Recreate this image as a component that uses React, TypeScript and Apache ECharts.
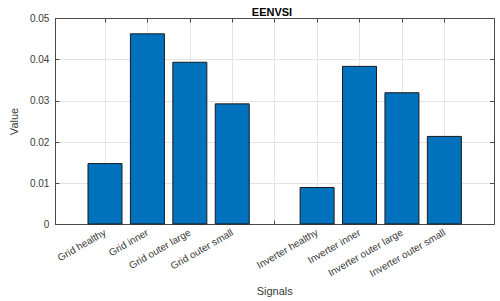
import React, { useEffect, useRef } from "react";
import * as echarts from "echarts";

const categories = [
  "Grid healthy",
  "Grid inner",
  "Grid outer large",
  "Grid outer small",
  "",
  "Inverter healthy",
  "Inverter inner",
  "Inverter outer large",
  "Inverter outer small",
];
const positions = [1, 2, 3, 4, 5, 6, 7, 8, 9];
const values: (number | null)[] = [0.0149, 0.0464, 0.0395, 0.0294, null, 0.0091, 0.0385, 0.0321, 0.0215];
const yTicks = [0, 0.01, 0.02, 0.03, 0.04, 0.05];

const FONT = "'Liberation Sans', Arial, Helvetica, sans-serif";
const AXIS_COLOR = "#4a4a4a";
const TEXT_COLOR = "#3a3a3a";
const GRID_COLOR = "#e4e4e4";

export default function App() {
  const ref = useRef<HTMLDivElement>(null);
  useEffect(() => {
    if (!ref.current) return;
    const chart = echarts.init(ref.current, undefined, { renderer: "svg" });
    const data = positions
      .map((p, i) => (values[i] == null ? null : [p, values[i]]))
      .filter((d) => d !== null);
    chart.setOption({
      animation: false,
      backgroundColor: "#ffffff",
      title: {
        text: "EENVSI",
        left: 267,
        textAlign: "center",
        top: 1,
        textStyle: { fontFamily: FONT, fontSize: 11, fontWeight: "bold", color: "#000" },
      },
      grid: { left: 41, right: 6, top: 18.5, bottom: 76, containLabel: false },
      xAxis: [
        {
          type: "value",
          min: -0.17,
          max: 10.17,
          position: "bottom",
          name: "Signals",
          nameLocation: "middle",
          nameGap: 59,
          nameTextStyle: { fontFamily: FONT, fontSize: 11, color: TEXT_COLOR },
          axisLine: { show: true, onZero: false, lineStyle: { color: AXIS_COLOR, width: 1 } },
          axisTick: { show: true, inside: true, length: 4, customValues: positions, lineStyle: { color: AXIS_COLOR } },
          axisLabel: {
            customValues: positions,
            rotate: 30,
            margin: 7,
            fontFamily: FONT,
            fontSize: 10,
            color: TEXT_COLOR,
            formatter: (v: number) => categories[Math.round(v) - 1] ?? "",
          },
          splitLine: { show: true, lineStyle: { color: GRID_COLOR, width: 1 } },
        },
        {
          type: "value",
          min: -0.17,
          max: 10.17,
          position: "top",
          axisLine: { show: true, onZero: false, lineStyle: { color: AXIS_COLOR, width: 1 } },
          axisTick: { show: true, inside: true, length: 4, customValues: positions, lineStyle: { color: AXIS_COLOR } },
          axisLabel: { show: false, customValues: positions },
          splitLine: { show: false },
        },
      ],
      yAxis: [
        {
          type: "value",
          min: 0,
          max: 0.05,
          interval: 0.01,
          position: "left",
          name: "Value",
          nameLocation: "middle",
          nameGap: 33,
          nameTextStyle: { fontFamily: FONT, fontSize: 11, color: TEXT_COLOR },
          axisLine: { show: true, onZero: false, lineStyle: { color: AXIS_COLOR, width: 1 } },
          axisTick: { show: true, inside: true, length: 4, lineStyle: { color: AXIS_COLOR } },
          axisLabel: {
            margin: 6,
            fontFamily: FONT,
            fontSize: 10,
            color: TEXT_COLOR,
            formatter: (v: number) => {
              const t = yTicks.find((y) => Math.abs(y - v) < 1e-9);
              return t === 0 ? "0" : String(Number(v.toFixed(2)));
            },
          },
          splitLine: { show: true, lineStyle: { color: GRID_COLOR, width: 1 } },
        },
        {
          type: "value",
          min: 0,
          max: 0.05,
          interval: 0.01,
          position: "right",
          axisLine: { show: true, onZero: false, lineStyle: { color: AXIS_COLOR, width: 1 } },
          axisTick: { show: true, inside: true, length: 4, lineStyle: { color: AXIS_COLOR } },
          axisLabel: { show: false },
          splitLine: { show: false },
        },
      ],
      series: [
        {
          type: "bar",
          xAxisIndex: 0,
          yAxisIndex: 0,
          data,
          barWidth: 35,
          itemStyle: { color: "#0072BD", borderColor: "#1a1a1a", borderWidth: 1 },
          z: 1,
        },
      ],
    });
    return () => chart.dispose();
  }, []);
  return (
    <div
      ref={ref}
      style={{ position: "fixed", left: 0, top: 0, width: 500, height: 301 }}
    />
  );
}
